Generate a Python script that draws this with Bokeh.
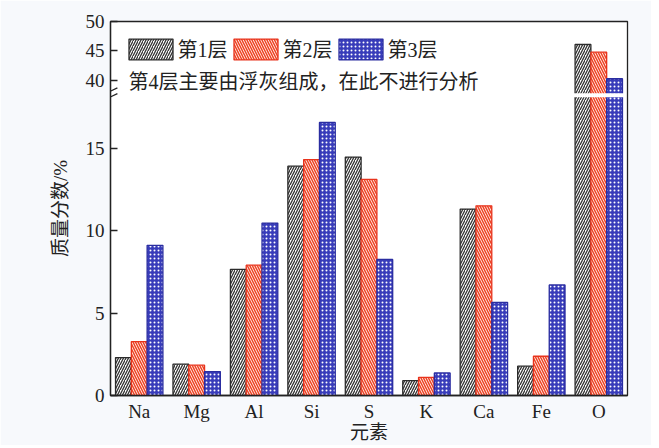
from bokeh.plotting import figure
from bokeh.models import (Range1d, FixedTicker, Legend, LegendItem,
                          Label, Arrow, ColumnDataSource)
from bokeh.transform import dodge
from bokeh.embed import file_html
from bokeh.resources import INLINE

# ---------------- data ----------------
elements = ["Na", "Mg", "Al", "Si", "S", "K", "Ca", "Fe", "O"]
layer1 = [2.3, 1.9, 7.65, 13.9, 14.45, 0.9, 11.3, 1.78, 46.1]
layer2 = [3.27, 1.84, 7.9, 14.3, 13.1, 1.1, 11.5, 2.38, 44.8]
layer3 = [9.1, 1.45, 10.45, 16.55, 8.25, 1.37, 5.65, 6.7, 40.3]
series_names = ["第1层", "第2层", "第3层"]
y_ticks = [0, 5, 10, 15, 40, 45, 50]
note_text = "第4层主要由浮灰组成，在此不进行分析"
x_title = "元素"
y_title = "质量分数/%"

# broken axis: lower segment 0..LOW_TOP, upper segment UP_BOTTOM..UP_TOP (compressed)
LOW_TOP = 18.2
UP_BOTTOM = 37.5
UP_TOP = 50
UP_SCALE = 0.3576


def to_display(v):
    return v if v <= LOW_TOP else LOW_TOP + (v - UP_BOTTOM) * UP_SCALE


FONT = "'Liberation Serif', 'Noto Sans CJK SC'"

centers = [i + 0.5 for i in range(len(elements))]
src = ColumnDataSource(dict(
    xc=centers,
    l1=[to_display(v) for v in layer1],
    l2=[to_display(v) for v in layer2],
    l3=[to_display(v) for v in layer3],
))

p = figure(width=651, height=445,
           x_range=Range1d(0, len(elements)),
           y_range=Range1d(0, to_display(UP_TOP)),
           output_backend="svg", toolbar_location=None,
           min_border_left=110, min_border_right=24,
           min_border_top=21, min_border_bottom=50)
p.background_fill_color = "#ffffff"
p.border_fill_color = "#f7f9fc"
p.outline_line_color = "#222222"
p.outline_line_width = 1.3
p.xgrid.visible = False
p.ygrid.visible = False

W = 0.275
styles = [
    dict(fill_color="#ffffff", hatch_pattern="/", hatch_color="#333333",
         hatch_scale=5, hatch_weight=1.3, line_color="#2b2b2b"),
    dict(fill_color="#fff6f0", hatch_pattern="\\", hatch_color="#ee4326",
         hatch_scale=5, hatch_weight=1.5, line_color="#e8331c"),
    dict(fill_color="#383cba", hatch_pattern=".", hatch_color="#ffffff",
         hatch_scale=4, hatch_weight=1.0, line_color="#2a2da0"),
]
offsets = [-W, 0.0, W]
renderers = []
for col, off, st in zip(["l1", "l2", "l3"], offsets, styles):
    r = p.vbar(x=dodge("xc", off), top=col, bottom=0,
               width=W, source=src, line_width=1.3, **st)
    renderers.append(r)

# gap across bars passing the break
o_idx = elements.index("O")
p.quad(left=[o_idx + 0.05], right=[o_idx + 0.95],
       bottom=[LOW_TOP - 0.12], top=[LOW_TOP + 0.12],
       fill_color="#ffffff", line_color=None)

# break marks on the y axis
for dy in (0.0, -0.35):
    p.add_layout(Arrow(end=None, x_start=-0.12, y_start=LOW_TOP + dy + 0.05,
                       x_end=0.12, y_end=LOW_TOP + dy + 0.45,
                       line_color="#222222", line_width=1.3))

# axes
p.yaxis.ticker = FixedTicker(ticks=[to_display(t) for t in y_ticks])
p.yaxis.major_label_overrides = {to_display(t): str(t) for t in y_ticks}
p.yaxis.minor_tick_line_color = None
p.yaxis.major_tick_in = 7
p.yaxis.major_tick_out = 0
p.yaxis.major_label_standoff = 6
p.yaxis.axis_label = y_title
p.yaxis.axis_label_standoff = 12
p.xaxis.ticker = FixedTicker(ticks=centers)
p.xaxis.major_label_overrides = {c: e for c, e in zip(centers, elements)}
p.xaxis.minor_tick_line_color = None
p.xaxis.axis_label = x_title
p.xaxis.major_tick_out = 0
p.xaxis.major_tick_in = 0
p.xaxis.major_label_standoff = 5
p.xaxis.axis_label_standoff = -3
for ax in (p.xaxis, p.yaxis):
    ax.axis_line_color = "#222222"
    ax.axis_line_width = 1.3
    ax.major_tick_line_width = 1.3
    ax.major_label_text_font = FONT
    ax.major_label_text_font_size = "19px"
    ax.major_label_text_color = "#222222"
    ax.axis_label_text_font = FONT
    ax.axis_label_text_font_size = "19px"
    ax.axis_label_text_font_style = "normal"
    ax.axis_label_text_color = "#222222"
p.yaxis.major_tick_line_color = "#222222"
p.xaxis.major_tick_line_color = None

legend = Legend(items=[LegendItem(label=n, renderers=[r]) for n, r in zip(series_names, renderers)],
                orientation="horizontal", location=(12.5, 331.6),
                glyph_width=55, glyph_height=26, label_standoff=0,
                label_width=48, spacing=0, padding=0, margin=0,
                border_line_color=None, background_fill_alpha=0,
                label_text_font=FONT, label_text_font_size="20px",
                label_text_color="#222222")
p.add_layout(legend, "center")

p.add_layout(Label(x=0.313, y=to_display(39.7), text=note_text,
                   text_font=FONT, text_font_size="20px", text_baseline="middle",
                   text_color="#222222"))

open("out.html", "w").write(file_html(p, INLINE))
